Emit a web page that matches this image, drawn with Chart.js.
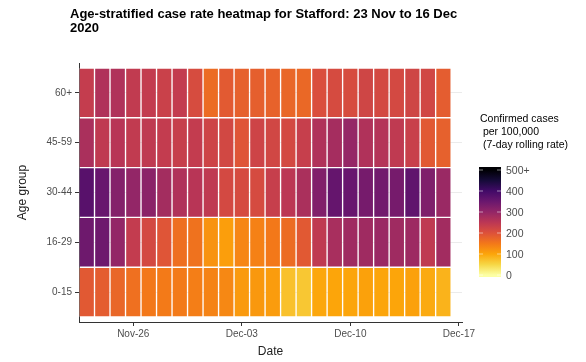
<!DOCTYPE html>
<html>
<head>
<meta charset="utf-8">
<script src="https://cdn.jsdelivr.net/npm/chart.js@4"></script>
<style>
  html, body { margin: 0; padding: 0; background: #fff; }
  #wrap { width: 586px; height: 362px; position: relative; }
</style>
</head>
<body>
<div id="wrap"><canvas id="chart"></canvas></div>
<script>
// day labels, Nov-23 .. Dec-16
let dates = ['Nov-23','Nov-24','Nov-25','Nov-26','Nov-27','Nov-28','Nov-29','Nov-30',
             'Dec-01','Dec-02','Dec-03','Dec-04','Dec-05','Dec-06','Dec-07','Dec-08',
             'Dec-09','Dec-10','Dec-11','Dec-12','Dec-13','Dec-14','Dec-15','Dec-16'];
let ageGroups = ['0-15', '16-29', '30-44', '45-59', '60+'];

// 7-day rolling rate per 100,000
let rate0to15  = [190,185,172,160,150,148,148,143,138,132,112,114,110,72,66,98,100,100,104,100,100,105,95,86];
let rate16to29 = [345,345,300,240,215,195,162,158,120,108,135,140,150,165,190,245,275,285,285,292,285,288,245,282];
let rate30to44 = [372,352,318,300,310,280,265,255,245,215,212,212,235,250,272,322,356,352,335,340,335,362,325,292];
let rate45to59 = [272,245,255,242,245,240,235,240,225,218,195,225,220,215,235,265,278,298,265,260,245,232,190,180];
let rate60plus = [238,265,265,242,240,230,240,210,165,188,180,182,178,172,170,205,212,210,222,215,215,222,220,185];

let xTickPos = [3, 10, 17, 24];
let xTickLabels = ['Nov-26', 'Dec-03', 'Dec-10', 'Dec-17'];
let legendValues = [0, 100, 200, 300, 400, 500];
let legendLabels = ['0', '100', '200', '300', '400', '500+'];

let rowsByGroup = [rate0to15, rate16to29, rate30to44, rate45to59, rate60plus];

// inferno, dark -> light
let inferno = ['#000004','#160B39','#420A68','#6A176E','#932667','#BC3754',
               '#DD513A','#F37819','#FCA50A','#F6D746','#FCFFA4'];

let hexToRgb = (h) => [1, 3, 5].map(i => parseInt(h.substring(i, i + 2), 16));

let rateColour = (v) => {
    let s = 1 - Math.max(0, Math.min(v, 500)) / 500;
    let pos = s * (inferno.length - 1);
    let i = Math.min(Math.floor(pos), inferno.length - 2);
    let f = pos - i;
    let a = hexToRgb(inferno[i]);
    let b = hexToRgb(inferno[i + 1]);
    let c = a.map((x, k) => Math.round(x + (b[k] - x) * f));
    return 'rgb(' + c.join(',') + ')';
}

let datasets = rowsByGroup.map((vals, g) => ({
    label: ageGroups[g],
    data: vals.map((v, i) => ({x: i, y: [g - 0.5, g + 0.5]})),
    backgroundColor: vals.map(v => rateColour(v)),
    borderColor: 'rgba(255,255,255,0.25)',
    borderWidth: 1,
    borderSkipped: false,
    grouped: false,
    barPercentage: 1,
    categoryPercentage: 1
}));

let textColour = '#4D4D4D';
let fontFamily = '"Liberation Sans", Arial, sans-serif';

let extras = {
    id: 'extras',
    afterDraw(chart) {
        let ctx = chart.ctx;
        ctx.save();
        // title
        ctx.fillStyle = '#000';
        ctx.font = 'bold 13px ' + fontFamily;
        ctx.textAlign = 'left';
        ctx.textBaseline = 'alphabetic';
        ctx.fillText('Age-stratified case rate heatmap for Stafford: 23 Nov to 16 Dec', 70, 18);
        ctx.fillText('2020', 70, 32);

        // colour bar legend
        ctx.fillStyle = '#000';
        ctx.font = '10.5px ' + fontFamily;
        ctx.fillText('Confirmed cases', 480, 122);
        ctx.fillText(' per 100,000', 480, 135);
        ctx.fillText(' (7-day rolling rate)', 480, 148);

        let barX = 479, barW = 22, barTop = 167, barBottom = 277;
        let y0 = 275, y500 = 170;
        let grad = ctx.createLinearGradient(0, y0, 0, y500);
        inferno.slice().reverse().forEach((c, i) => grad.addColorStop(i / (inferno.length - 1), c));
        ctx.fillStyle = grad;
        ctx.fillRect(barX, barTop, barW, barBottom - barTop);

        ctx.strokeStyle = 'rgba(255,255,255,0.5)';
        ctx.lineWidth = 1;
        ctx.font = '10.5px ' + fontFamily;
        ctx.textBaseline = 'middle';
        legendValues.forEach((v, i) => {
            let y = y0 - (y0 - y500) * v / 500;
            ctx.beginPath();
            ctx.moveTo(barX, y); ctx.lineTo(barX + 4, y);
            ctx.moveTo(barX + barW - 4, y); ctx.lineTo(barX + barW, y);
            ctx.stroke();
            ctx.fillStyle = textColour;
            ctx.fillText(legendLabels[i], 506, y + 1);
        });
        ctx.restore();
    }
};

new Chart(document.getElementById('chart').getContext('2d'), {
    type: 'bar',
    data: { datasets: datasets },
    options: {
        responsive: true,
        maintainAspectRatio: false,
        animation: false,
        indexAxis: 'x',
        layout: { padding: { top: 63, right: 124, bottom: 0, left: 0 } },
        plugins: {
            legend: { display: false },
            title: { display: false },
            tooltip: { enabled: false }
        },
        scales: {
            x: {
                type: 'linear',
                offset: false,
                min: -0.5,
                max: 24.2,
                afterFit: (scale) => { scale.height = 40; },
                afterBuildTicks: (scale) => { scale.ticks = xTickPos.map(v => ({value: v})); },
                ticks: {
                    autoSkip: false,
                    maxRotation: 0,
                    padding: 2,
                    color: textColour,
                    font: { family: fontFamily, size: 10 },
                    callback: (v) => xTickLabels[xTickPos.indexOf(v)]
                },
                grid: { offset: false, color: 'rgba(0,0,0,0)', tickColor: '#333', tickLength: 4 },
                border: { display: true, color: '#333', width: 1 },
                title: {
                    display: true, text: 'Date', color: '#222',
                    font: { family: fontFamily, size: 12 },
                    padding: { top: 0, bottom: 3 }
                }
            },
            y: {
                type: 'linear',
                min: -0.6,
                max: 4.6,
                afterFit: (scale) => { scale.width = 79; },
                afterBuildTicks: (scale) => { scale.ticks = ageGroups.map((a, i) => ({value: i})); },
                ticks: {
                    autoSkip: false,
                    padding: 3,
                    color: textColour,
                    font: { family: fontFamily, size: 10 },
                    callback: (v) => ageGroups[v]
                },
                grid: { color: '#EBEBEB', tickColor: '#333', tickLength: 4 },
                border: { display: true, color: '#333', width: 1 },
                title: {
                    display: true, text: 'Age group', color: '#222',
                    font: { family: fontFamily, size: 12 },
                    padding: { top: 15, bottom: 0 }
                }
            }
        }
    },
    plugins: [extras]
});
</script>
</body>
</html>
